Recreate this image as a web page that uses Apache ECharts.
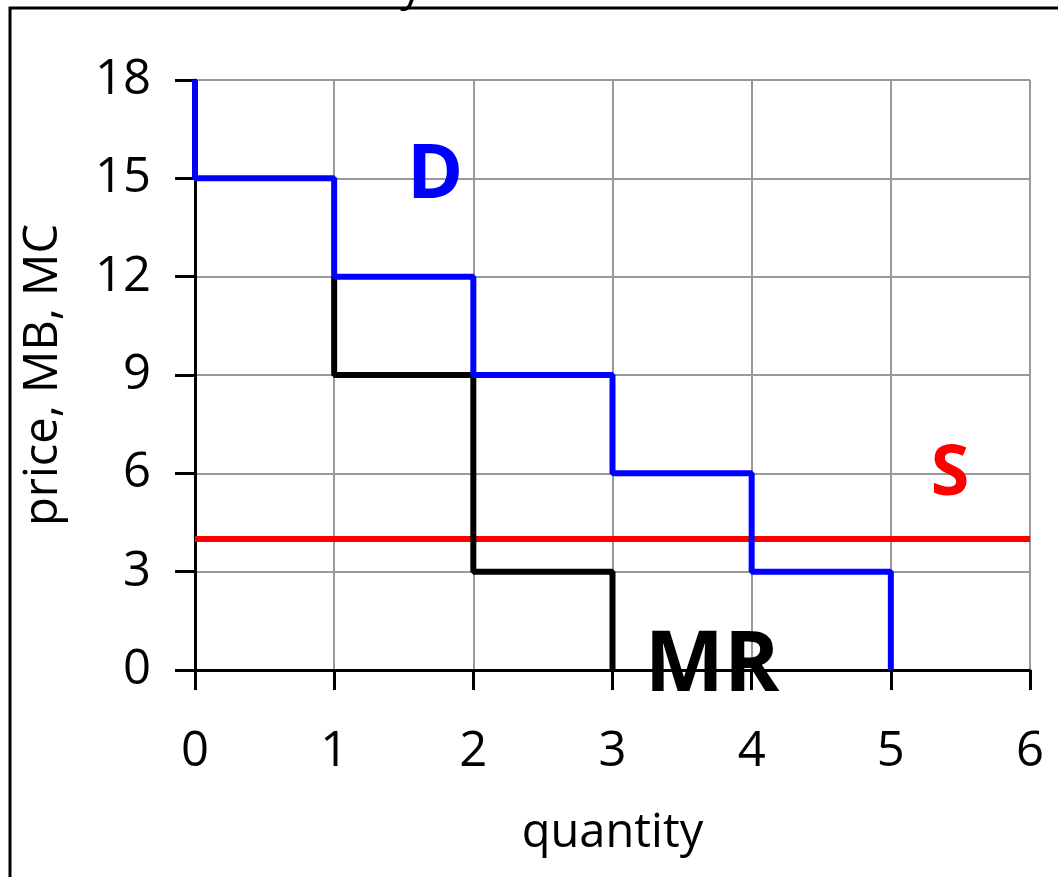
<!DOCTYPE html>
<html><head><meta charset="utf-8">
<script src="https://cdn.jsdelivr.net/npm/echarts@6/dist/echarts.min.js"></script>
<style>html,body{margin:0;padding:0;background:#fff}#c{width:1058px;height:877px}</style>
</head><body><div id="c"></div>
<script>
const xTicks = [0,1,2,3,4,5,6];
const yTicks = [0,3,6,9,12,15,18];
const demandPoints = [[0,18],[0,15],[1,15],[1,12],[2,12],[2,9],[3,9],[3,6],[4,6],[4,3],[5,3],[5,0]];
const mrPoints = [[1,12],[1,9],[2,9],[2,3],[3,3],[3,0]];
const supplyPoints = [[0,4],[6,4]];
const labels = [{name:'D',x:1.725,y:15.05,color:'#0000ff',size:76},{name:'S',x:5.425,y:5.95,color:'#ff0000',size:70},{name:'MR',x:3.715,y:0.1,color:'#000000',size:84}];
const F = '"Open Sans", Lato, sans-serif';
const chart = echarts.init(document.getElementById('c'));
chart.setOption({
  animation:false,
  grid:{left:195,right:28,top:80,bottom:207,containLabel:false,outerBoundsMode:'none'},
  graphic:[
    {type:'rect',shape:{x:10,y:8,width:1060,height:900},style:{fill:'none',stroke:'#000',lineWidth:3},z:-1},
    {type:'text',left:400,top:-36,style:{text:'y',font:'46px '+F,fill:'#000'}}
  ],
  xAxis:{type:'value',min:0,max:6,interval:1,
    name:'quantity',nameLocation:'middle',nameGap:140,nameTextStyle:{fontSize:47,fontFamily:F,color:'#000'},
    axisLine:{show:true,onZero:false,lineStyle:{color:'#000',width:3}},
    axisTick:{show:true,length:20,inside:false,lineStyle:{color:'#000',width:3}},
    axisLabel:{fontSize:49,fontFamily:F,color:'#000',margin:58},
    splitLine:{show:true,lineStyle:{color:'#999',width:2}}},
  yAxis:{type:'value',min:0,max:18,interval:3,
    name:'price, MB, MC',nameLocation:'middle',nameGap:128,nameTextStyle:{fontSize:47,fontFamily:F,color:'#000'},
    axisLine:{show:true,lineStyle:{color:'#000',width:3}},
    axisTick:{show:true,length:20,lineStyle:{color:'#000',width:3}},
    axisLabel:{fontSize:49,fontFamily:F,color:'#000',margin:44},
    splitLine:{show:true,lineStyle:{color:'#999',width:2}}},
  series:[
    {type:'line',data:supplyPoints,symbol:'none',lineStyle:{color:'#ff0000',width:6},z:2},
    {type:'line',data:mrPoints,symbol:'none',lineStyle:{color:'#000',width:6},z:3},
    {type:'line',data:demandPoints,symbol:'none',lineStyle:{color:'#0000ff',width:6},z:4},
    {type:'scatter',data:labels.map(l=>({value:[l.x,l.y],label:{show:true,formatter:l.name,color:l.color,fontSize:l.size}})),
      symbolSize:0,z:5,silent:true,
      label:{show:true,position:'inside',fontWeight:'bold',fontFamily:F,textBorderWidth:0,opacity:1}}
  ]
});
</script></body></html>
